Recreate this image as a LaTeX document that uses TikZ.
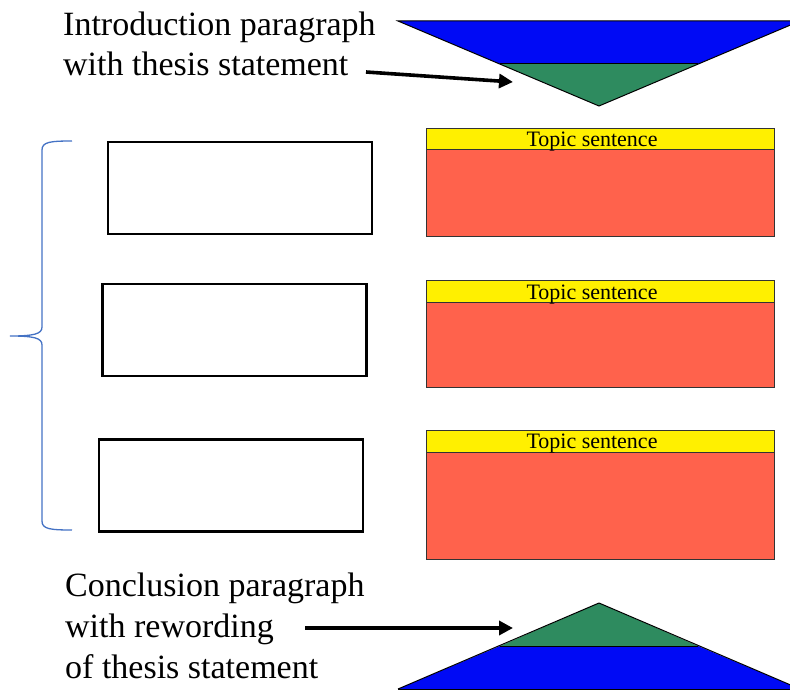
\documentclass[tikz,border=0pt]{standalone}
\usepackage{fontspec}
\setmainfont{Liberation Serif}
\usetikzlibrary{arrows.meta}
\definecolor{triblue}{RGB}{0,10,245}
\definecolor{trigreen}{RGB}{46,139,95}
\definecolor{bodyred}{RGB}{255,98,76}
\definecolor{tsyellow}{RGB}{255,240,0}
\definecolor{bracecol}{RGB}{68,114,196}
\begin{document}
\begin{tikzpicture}[x=1pt,y=-1pt,
  emptybox/.style={draw=black,line width=2.2pt,fill=white,minimum width=264pt,minimum height=92pt,inner sep=0pt},
  tsbox/.style={draw=black!80,line width=1pt,fill=tsyellow,minimum width=348pt,minimum height=22pt,inner sep=0pt},
  bodybox/.style={draw=black!80,line width=1pt,fill=bodyred,minimum width=348pt,inner sep=0pt},
  tstext/.style={font=\fontsize{22}{24}\selectfont,inner sep=0pt,anchor=base},
  bigtext/.style={font=\fontsize{34}{40}\selectfont,inner sep=0pt,anchor=base west},
  tri/.style={draw=black,line width=1pt,line join=miter},
  pointer/.style={line width=3.6pt,-{Triangle[length=14pt,width=14pt]}}
]
\useasboundingbox (0,0) rectangle (790,690);

% top inverted triangle
\begin{scope}
\clip (0,0) rectangle (790,690);
\fill[triblue] (398,21) -- (800,21) -- (698,64) -- (500,64) -- cycle;
\fill[trigreen] (500,64) -- (698,64) -- (599,106) -- cycle;
\draw[tri] (398,21) -- (800,21) -- (599,106) -- cycle;
\draw[tri] (500,64) -- (698,64);
% bottom triangle
\fill[trigreen] (599,603) -- (698,646) -- (500,646) -- cycle;
\fill[triblue] (500,646) -- (698,646) -- (800,689) -- (398,689) -- cycle;
\draw[tri] (599,603) -- (800,689);
\draw[tri] (599,603) -- (398,689);
\draw[tri] (398,689) -- (800,689);
\draw[tri] (500,646) -- (698,646);
\end{scope}

\coordinate (toptip) at (513,82);
\coordinate (bottip) at (513,628);

% labels
\node[bigtext] (intro1) at (63,36) {Introduction paragraph};
\node[bigtext] (intro2) at (63,76) {with thesis statement};
\node[bigtext] (conc1) at (65,596) {Conclusion paragraph};
\node[bigtext] (conc2) at (65,637) {with rewording};
\node[bigtext] (conc3) at (65,678) {of thesis statement};

\coordinate (topstart) at (366,72);
\coordinate (botstart) at (305,628);
\draw[pointer] (topstart) -- (toptip);
\draw[pointer] (botstart) -- (bottip);

% empty boxes
\node[emptybox] (e1) at (240,188) {};
\node[emptybox] (e2) at (234.5,330) {};
\node[emptybox] (e3) at (231,485.5) {};

% paragraph boxes
\node[tsbox] (t1) at (600,140) {};
\node[bodybox,minimum height=86pt] (p1) at (600,193) {};
\node[tstext] at (592,147) {Topic sentence};

\node[tsbox] (t2) at (600,291) {};
\node[bodybox,minimum height=85pt] (p2) at (600,344.5) {};
\node[tstext] at (592,299) {Topic sentence};

\node[tsbox] (t3) at (600,441) {};
\node[bodybox,minimum height=107pt] (p3) at (600,505.5) {};
\node[tstext] at (592,448) {Topic sentence};

% brace
\draw[bracecol,line width=1.3pt]
  (72,141) .. controls (50,141) and (42,142) .. (42,150) -- (42,327)
  .. controls (42,334) and (34,336) .. (10,336)
  .. controls (34,336) and (42,338) .. (42,345) -- (42,521)
  .. controls (42,529) and (50,530) .. (72,530);
\end{tikzpicture}
\end{document}
